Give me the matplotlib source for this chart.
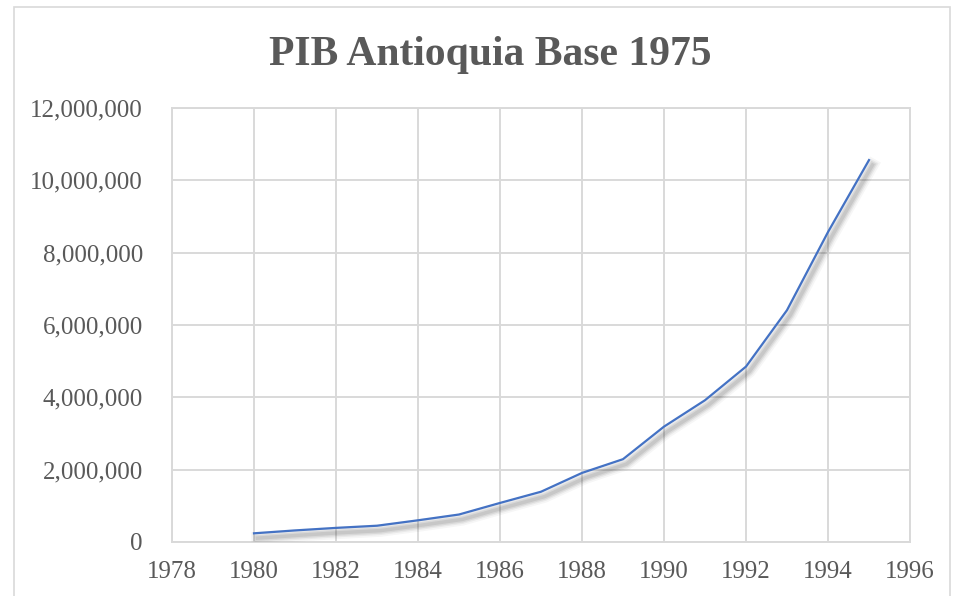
import matplotlib
matplotlib.use("Agg")
import matplotlib.pyplot as plt
import matplotlib.patheffects as pe
from matplotlib.ticker import FuncFormatter, MultipleLocator
from matplotlib.patches import Rectangle

years = [1980, 1981, 1982, 1983, 1984, 1985, 1986, 1987, 1988, 1989,
         1990, 1991, 1992, 1993, 1994, 1995]
pib = [240000, 320000, 390000, 450000, 600000, 760000, 1080000, 1390000,
       1910000, 2290000, 3190000, 3920000, 4850000, 6410000, 8570000, 10560000]

title = "PIB Antioquia Base 1975"
grid_c = "#D9D9D9"
text_c = "#595959"

fig = plt.figure(figsize=(9.56, 5.96), dpi=100)
fig.patches.append(Rectangle((14/956, -0.01), 936/956, 1 - 7/596 + 0.01,
                             transform=fig.transFigure, fill=False,
                             edgecolor=grid_c, linewidth=1.2))
ax = fig.add_axes([172/956, 1 - 542/596, 738/956, 434/596])

off = (2.5, -3.5)
shadow = [pe.SimpleLineShadow(offset=off, shadow_color="#000000", alpha=0.035, linewidth=9),
          pe.SimpleLineShadow(offset=off, shadow_color="#000000", alpha=0.05, linewidth=6.5),
          pe.SimpleLineShadow(offset=off, shadow_color="#000000", alpha=0.07, linewidth=4.5),
          pe.SimpleLineShadow(offset=off, shadow_color="#000000", alpha=0.08, linewidth=2.5),
          pe.Normal()]
ax.plot(years, pib, color="#4472C4", linewidth=1.6, path_effects=shadow, zorder=3,
        solid_joinstyle="round")

ax.set_xlim(1978, 1996)
ax.set_ylim(0, 12000000)
ax.xaxis.set_major_locator(MultipleLocator(2))
ax.yaxis.set_major_locator(MultipleLocator(2000000))
ax.yaxis.set_major_formatter(FuncFormatter(lambda v, p: f"{int(v):,}"))
ax.grid(True, color=grid_c, linewidth=1.4)
ax.set_axisbelow(True)
for s in ax.spines.values():
    s.set_color(grid_c)
    s.set_linewidth(1.4)
ax.tick_params(length=0, labelsize=18, labelcolor=text_c)
ax.tick_params(axis="y", pad=21)
ax.tick_params(axis="x", pad=14)
for lab in ax.get_xticklabels() + ax.get_yticklabels():
    lab.set_family("Liberation Serif")

fig.text(490/956, 1 - 55/596, title, ha="center", va="center",
         fontsize=30, fontweight="bold", color=text_c, family="Liberation Serif")

fig.savefig("out.png", dpi=100)
